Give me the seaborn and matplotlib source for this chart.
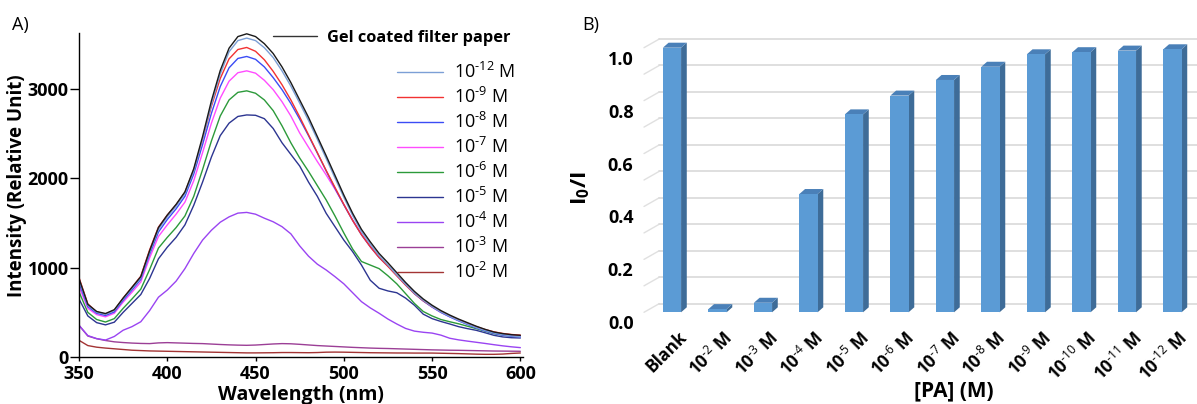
import matplotlib
matplotlib.use("Agg")
import matplotlib.pyplot as plt
import matplotlib.transforms as mtransforms
from matplotlib.patches import Polygon
from matplotlib.lines import Line2D
import numpy as np
import pandas as pd
import seaborn as sns

# ---------------------------------------------------------------- data
wavelength = list(range(350, 601, 5))

gel_paper = [880, 590, 510, 487, 530, 660, 780, 900, 1190, 1450, 1590, 1710, 1850, 2110, 2470,
             2870, 3210, 3460, 3590, 3621, 3590, 3510, 3400, 3250, 3075, 2880, 2685, 2470, 2255,
             2035, 1815, 1610, 1430, 1290, 1160, 1055, 945, 835, 735, 650, 580, 520, 470, 425,
             385, 345, 310, 280, 262, 250, 243]
pa_1e12 = [860, 580, 500, 478, 520, 650, 765, 885, 1170, 1430, 1570, 1690, 1830, 2085, 2440,
           2830, 3170, 3420, 3545, 3573, 3545, 3465, 3355, 3205, 3035, 2845, 2650, 2440, 2225,
           2005, 1790, 1585, 1405, 1265, 1135, 1030, 920, 815, 715, 635, 565, 505, 455, 410,
           370, 330, 298, 270, 250, 236, 226]
pa_1e9 = [890, 595, 505, 480, 525, 660, 780, 905, 1200, 1455, 1590, 1705, 1845, 2095, 2440,
          2810, 3120, 3340, 3445, 3468, 3425, 3330, 3200, 3050, 2880, 2690, 2490, 2290, 2090,
          1900, 1710, 1530, 1370, 1235, 1115, 1015, 910, 805, 710, 630, 565, 510, 460, 418,
          378, 340, 308, 282, 264, 252, 245]
pa_1e8 = [830, 565, 490, 465, 505, 635, 750, 870, 1150, 1400, 1540, 1660, 1800, 2050, 2380,
          2730, 3030, 3240, 3345, 3367, 3335, 3250, 3130, 2995, 2840, 2665, 2480, 2285, 2085,
          1890, 1705, 1530, 1370, 1235, 1115, 1020, 915, 810, 710, 628, 560, 500, 450, 405,
          365, 325, 293, 265, 245, 232, 225]
pa_1e7 = [790, 545, 475, 450, 490, 615, 725, 840, 1110, 1350, 1480, 1600, 1735, 1975, 2290,
          2620, 2900, 3090, 3185, 3206, 3180, 3100, 2995, 2860, 2700, 2510, 2350, 2190, 2040,
          1880, 1710, 1535, 1375, 1240, 1120, 1020, 915, 810, 712, 630, 560, 500, 452, 408,
          368, 330, 298, 270, 250, 238, 230]
pa_1e6 = [730, 500, 420, 392, 430, 545, 650, 760, 980, 1220, 1340, 1450, 1580, 1800, 2100,
          2420, 2700, 2880, 2965, 2982, 2955, 2880, 2760, 2590, 2400, 2230, 2080, 1920, 1760,
          1580, 1390, 1210, 1070, 1030, 990, 910, 820, 710, 600, 510, 460, 420, 395, 372,
          345, 318, 290, 262, 245, 236, 232]
pa_1e5 = [650, 460, 385, 360, 390, 500, 600, 700, 880, 1100, 1230, 1340, 1480, 1700, 1960,
          2240, 2480, 2620, 2695, 2712, 2708, 2670, 2560, 2400, 2270, 2140, 1960, 1800, 1610,
          1460, 1310, 1180, 1030, 860, 770, 740, 720, 660, 580, 480, 430, 398, 370, 340,
          318, 299, 272, 243, 225, 216, 213]
pa_1e4 = [355, 240, 206, 190, 230, 300, 340, 395, 520, 670, 750, 850, 990, 1160, 1310,
          1420, 1510, 1570, 1612, 1620, 1600, 1555, 1515, 1460, 1380, 1245, 1130, 1040, 975,
          900, 820, 720, 620, 550, 490, 425, 370, 320, 290, 277, 268, 245, 210, 192,
          178, 165, 152, 138, 125, 114, 105]
pa_1e3 = [355, 235, 205, 185, 170, 162, 156, 152, 150, 158, 161, 158, 155, 152, 150,
          145, 140, 136, 133, 131, 134, 140, 146, 150, 148, 142, 135, 128, 123,
          118, 113, 108, 104, 100, 97, 95, 92, 89, 86, 83, 80, 78, 76, 75,
          73, 71, 69, 67, 66, 65, 64]
pa_1e2 = [187, 128, 110, 100, 92, 84, 76, 72, 68, 66, 64, 62, 60, 58, 56,
          54, 52, 50, 48, 46, 46, 47, 48, 50, 50, 49, 48, 50, 54,
          55, 54, 52, 50, 48, 47, 46, 45, 45, 44, 44, 44, 42, 40, 38,
          35, 32, 30, 30, 33, 40, 45]


def conc(exp):
    """Concentration label such as 10^-5 M, with a plain hyphen in the exponent."""
    return "10$^{\\text{-%d}}$ M" % exp


spectra = {
    conc(2): (pa_1e2, "#a33434"),
    conc(3): (pa_1e3, "#9b3f96"),
    conc(4): (pa_1e4, "#9a44f2"),
    conc(5): (pa_1e5, "#2c3591"),
    conc(6): (pa_1e6, "#2c9a3a"),
    conc(7): (pa_1e7, "#ff4cff"),
    conc(8): (pa_1e8, "#3b4cf5"),
    conc(9): (pa_1e9, "#f23232"),
    conc(12): (pa_1e12, "#7c9fd6"),
    "Gel coated filter paper": (gel_paper, "#1a1a1a"),
}
legend_order = [conc(e) for e in (12, 9, 8, 7, 6, 5, 4, 3, 2)]

pa_labels = ["Blank"] + [conc(e) for e in range(2, 13)]
quench_ratio = [1.0, 0.012, 0.036, 0.447, 0.748, 0.819, 0.878, 0.928, 0.975, 0.983, 0.989, 0.994]

# ---------------------------------------------------------------- style
sns.set_style("ticks")
plt.rcParams["font.family"] = ["Open Sans", "DejaVu Sans"]
plt.rcParams["mathtext.fontset"] = "custom"
plt.rcParams["mathtext.rm"] = "Open Sans"
plt.rcParams["mathtext.it"] = "Open Sans:italic"
plt.rcParams["mathtext.bf"] = "Open Sans:bold"
for key in ["text.color", "axes.labelcolor", "xtick.color", "ytick.color", "axes.edgecolor"]:
    plt.rcParams[key] = "black"

W, H = 1197, 404
fig = plt.figure(figsize=(W / 100, H / 100), dpi=100)

# ---------------------------------------------------------------- panel A: spectra
ax1 = fig.add_axes([79 / W, (H - 357) / H, (523 - 79) / W, (357 - 33) / H])
rows = []
for name, (vals, _) in spectra.items():
    for wl, v in zip(wavelength, vals):
        rows.append({"wavelength": wl, "intensity": v, "sample": name})
df = pd.DataFrame(rows)
palette = {name: c for name, (_, c) in spectra.items()}
sns.lineplot(data=df, x="wavelength", y="intensity", hue="sample",
             hue_order=list(spectra.keys()), palette=palette, linewidth=1.0,
             estimator=None, sort=False, legend=False, ax=ax1)
ax1.set_xlim(350, 601.5)
ax1.set_ylim(0, 3630)
ax1.set_xticks([350, 400, 450, 500, 550, 600])
ax1.set_yticks([0, 1000, 2000, 3000])
sns.despine(ax=ax1)
for s in ["left", "bottom"]:
    ax1.spines[s].set_linewidth(1.0)
ax1.tick_params(axis="y", direction="out", length=6.5, width=1.0, pad=1, labelsize=13)
ax1.tick_params(axis="x", direction="out", length=3, width=1.0, pad=3, labelsize=13)
for lbl in ax1.get_xticklabels() + ax1.get_yticklabels():
    lbl.set_fontweight("bold")
ax1.set_xlabel("Wavelength (nm)", fontsize=14, fontweight="bold")
ax1.xaxis.set_label_coords(0.5, -0.086)
ax1.set_ylabel("Intensity (Relative Unit)", fontsize=13.5, fontweight="bold")
ax1.yaxis.set_label_coords(-0.118, 0.53)

# legends
gel_handle = [Line2D([], [], color="#333333", lw=1.0)]
leg0 = ax1.legend(gel_handle, ["Gel coated filter paper"], loc="upper left",
                  bbox_to_anchor=(273 / W, 1 - 30 / H), bbox_transform=fig.transFigure,
                  frameon=False, borderpad=0, borderaxespad=0, handlelength=2.7,
                  handletextpad=0.6, prop={"weight": "bold", "size": 11.8})
ax1.add_artist(leg0)
conc_handles = [Line2D([], [], color=spectra[k][1], lw=1.0) for k in legend_order]
ax1.legend(conc_handles, legend_order, loc="upper left",
           bbox_to_anchor=(397 / W, 1 - 62 / H), bbox_transform=fig.transFigure,
           frameon=False, borderpad=0, borderaxespad=0, handlelength=2.55,
           handletextpad=0.6, labelspacing=0.27, prop={"size": 13})

fig.text(12 / W, 1 - 25 / H, "A)", fontsize=13, va="center", ha="left")

# ---------------------------------------------------------------- panel B: bars
ax2 = fig.add_axes([644 / W, (H - 312.3) / H, (W - 644) / W, (312.3 - 47.7) / H])
bar_df = pd.DataFrame({"pa": pa_labels, "ratio": quench_ratio})
front, side, top = "#5b9bd5", "#3e6c98", "#4a80b8"
sns.barplot(data=bar_df, x="pa", y="ratio", order=pa_labels, color=front,
            saturation=1, width=0.4, ax=ax2, zorder=3)
ax2.set_xlim(-0.615, 11.54)
ax2.set_ylim(0, 1)
for s in ax2.spines.values():
    s.set_visible(False)


def px_to_data(ax, dx, dy):
    x0, y0 = ax.transData.transform((0, 0))
    x1, y1 = ax.transData.inverted().transform((x0 + dx, y0 + dy))
    return x1, y1


wall_dx, wall_dy = px_to_data(ax2, 15.3, 8.7)
bar_dx, bar_dy = px_to_data(ax2, 5.7, 5.0)
xl, xr = ax2.get_xlim()

# back wall gridlines with their perspective side segment
for v in np.linspace(0, 1, 11):
    ax2.plot([xl, xl + wall_dx], [v, v + wall_dy], color="#e0e0e0", lw=1.0,
             clip_on=False, zorder=0)
    ax2.plot([xl + wall_dx, xr + 1], [v + wall_dy, v + wall_dy], color="#dcdcdc",
             lw=1.3, clip_on=False, zorder=0)

# side and top faces for each column
for rect in list(ax2.patches):
    x0, w, h = rect.get_x(), rect.get_width(), rect.get_height()
    rect.set_edgecolor("none")
    ax2.add_patch(Polygon([(x0 + w, 0), (x0 + w, h), (x0 + w + bar_dx, h + bar_dy),
                           (x0 + w + bar_dx, bar_dy)], closed=True, facecolor=side,
                          edgecolor="none", clip_on=False, zorder=2))
    ax2.add_patch(Polygon([(x0, h), (x0 + w, h), (x0 + w + bar_dx, h + bar_dy),
                           (x0 + bar_dx, h + bar_dy)], closed=True, facecolor=top,
                          edgecolor="none", clip_on=False, zorder=2))

ax2.set_yticks([0, 0.2, 0.4, 0.6, 0.8, 1.0])
ax2.set_yticklabels(["0.0", "0.2", "0.4", "0.6", "0.8", "1.0"])
ax2.tick_params(axis="y", length=0, pad=7.5, labelsize=13)
ax2.tick_params(axis="x", length=0, pad=16, labelsize=12.5)
down = mtransforms.ScaledTranslation(0, -10 / 100, fig.dpi_scale_trans)
for lbl in ax2.get_yticklabels():
    lbl.set_fontweight("bold")
    lbl.set_transform(lbl.get_transform() + down)
shift = mtransforms.ScaledTranslation(12 / 100, 0, fig.dpi_scale_trans)
for lbl in ax2.get_xticklabels():
    lbl.set_fontweight("bold")
    lbl.set_rotation(45)
    lbl.set_ha("right")
    lbl.set_va("center")
    lbl.set_rotation_mode("anchor")
    lbl.set_transform(lbl.get_transform() + shift)
ax2.set_xlabel("[PA] (M)", fontsize=15, fontweight="bold")
ax2.xaxis.set_label_coords((954 - 644) / (W - 644), -(380 - 312.3) / (312.3 - 47.7))
ax2.set_ylabel("I$_{\\mathregular{0}}$/I", fontsize=16, fontweight="bold")
ax2.yaxis.set_label_coords(-(644 - 592) / (W - 644), (312.3 - 188) / (312.3 - 47.7))

fig.text(582 / W, 1 - 25 / H, "B)", fontsize=13, va="center", ha="left")

fig.savefig("out.png", dpi=100)
